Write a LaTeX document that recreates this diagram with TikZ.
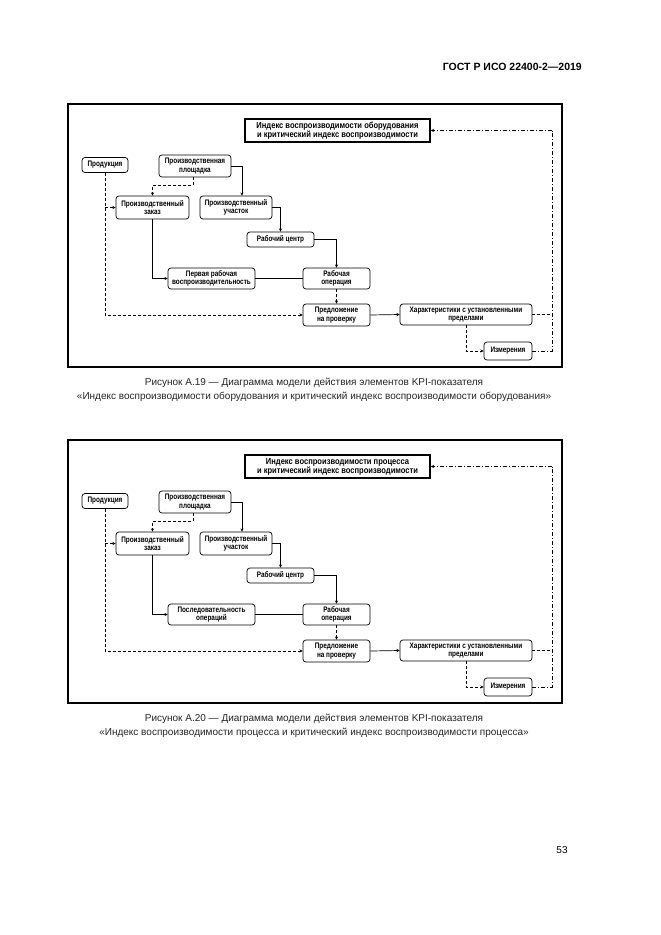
\documentclass[tikz,border=0pt]{standalone}
\usepackage{fontspec}
\setmainfont{Liberation Sans}
\newfontfamily\nodefont[FakeStretch=0.8]{Liberation Sans}
\newfontfamily\idxfont[FakeStretch=0.86]{Liberation Sans}
\usetikzlibrary{arrows.meta}
\tikzset{
  box/.style={draw, rounded corners=3pt, line width=0.7pt, align=center, inner sep=0pt,
    font=\nodefont\bfseries\fontsize{8}{8.6}\selectfont},
  idxbox/.style={draw, line width=1.8pt, align=center, inner sep=0pt,
    font=\idxfont\bfseries\fontsize{8.8}{9}\selectfont},
  frame/.style={draw, line width=1.1pt},
  conn/.style={line width=0.7pt},
  arr/.style={conn, -{Stealth[length=3.2pt,width=3.2pt]}},
  dsh/.style={dash pattern=on 3pt off 2pt},
  dshdot/.style={dash pattern=on 4pt off 2pt on 1pt off 2pt},
  caption/.style={font=\fontsize{10}{13.5}\selectfont, text=black!85, align=center, inner sep=0pt}
}
\newcommand\kpidiagram[3]{%
\begin{scope}[yshift=#1]
  \draw[frame] (68,104) rectangle (562,367);
  \node[idxbox, minimum width=185pt, minimum height=23pt] (idx) at (337.5,130.5) {#2};
  \node[box, minimum width=46pt, minimum height=15pt] (prod) at (105,165) {Продукция};
  \node[box, minimum width=72pt, minimum height=22pt] (plosh) at (195,166) {Производственная\\площадка};
  \node[box, minimum width=73pt, minimum height=23pt] (zakaz) at (152.5,207.5) {Производственный\\заказ};
  \node[box, minimum width=72pt, minimum height=23pt] (uch) at (236,207.5) {Производственный\\участок};
  \node[box, minimum width=67pt, minimum height=15pt] (rc) at (280.5,239.5) {Рабочий центр};
  \node[box, minimum width=87pt, minimum height=21pt] (perv) at (211.5,278.5) {#3};
  \node[box, minimum width=67pt, minimum height=21pt] (ro) at (336.5,278.5) {Рабочая\\операция};
  \node[box, minimum width=67pt, minimum height=22pt] (pred) at (336.5,315) {Предложение\\на проверку};
  \node[box, minimum width=132pt, minimum height=21pt] (har) at (466,314.5) {Характеристики с установленными\\пределами};
  \node[box, minimum width=48pt, minimum height=18pt] (izm) at (508,351) {Измерения};
  \coordinate (rr) at (552,130.5);
  % solid connectors
  \draw[arr] (plosh.east) -| ([xshift=6pt]uch.north);
  \draw[arr] (uch.east) -| (rc.north);
  \draw[arr] (rc.east) -| (ro.north);
  \draw[arr] (zakaz.south) |- (perv.west);
  \draw[conn] (perv.east) -- (ro.west);
  \draw[arr] (pred.east) -- (har.west);
  % dashed connectors
  \draw[arr, dsh] (ro.south) -- (pred.north);
  \draw[arr, dsh] (har.south) |- (izm.west);
  \draw[arr, dsh] ([xshift=-2pt]plosh.south) -- ++(0,8) -| (zakaz.north);
  \draw[arr, dsh] (prod.south) |- (pred.west);
  \draw[arr, dsh] (prod.south |- zakaz.west) -- (zakaz.west);
  \draw[conn, dsh] (har.east) -- (har.east -| rr);
  \draw[conn, dshdot] (izm.east) -- (izm.east -| rr) -- (rr);
  \draw[arr, dshdot] (rr) -- (idx.east);
\end{scope}}
\begin{document}
\begin{tikzpicture}[x=1pt,y=-1pt]
  \fill[white] (0,0) rectangle (661,935);
  \useasboundingbox (0,0) rectangle (661,935);
  \node[anchor=east, font=\bfseries\fontsize{10.5}{12}\selectfont, inner sep=0pt] (hdr) at (582,67) {ГОСТ Р ИСО 22400-2—2019};
  \kpidiagram{0pt}{Индекс воспроизводимости оборудования\\и критический индекс воспроизводимости}{Первая рабочая\\воспроизводительность}
  \node[caption] (cap1) at (314,390) {Рисунок А.19 — Диаграмма модели действия элементов KPI-показателя\\«Индекс воспроизводимости оборудования и критический индекс воспроизводимости оборудования»};
  \kpidiagram{-336pt}{Индекс воспроизводимости процесса\\и критический индекс воспроизводимости}{Последовательность\\операций}
  \node[caption] (cap2) at (314,726) {Рисунок А.20 — Диаграмма модели действия элементов KPI-показателя\\«Индекс воспроизводимости процесса и критический индекс воспроизводимости процесса»};
  \node[font=\fontsize{10}{12}\selectfont, inner sep=0pt] (pg) at (562,850) {53};
\end{tikzpicture}
\end{document}
